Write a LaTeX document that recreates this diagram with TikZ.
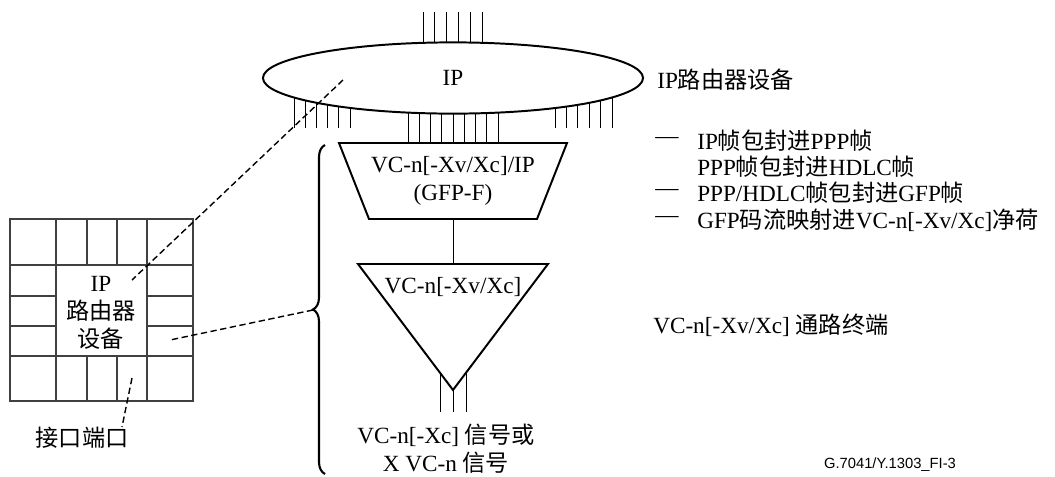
\documentclass[tikz,border=0pt]{standalone}
\usepackage{fontspec}
\setmainfont{Liberation Serif}
\newfontfamily\zhfont{Noto Sans CJK SC}
\newfontfamily\tagfont{Liberation Sans}
\usetikzlibrary{shapes.geometric, decorations.pathreplacing}
\newcommand{\zh}[1]{{\zhfont #1}}

\begin{document}
\begin{tikzpicture}[
  x=0.025cm, y=-0.025cm,
  font=\fontsize{16.5}{19.8}\selectfont,
  box/.style={draw, line width=1.4pt, line join=miter, fill=white},
  wire/.style={line width=0.7pt},
  cell/.style={line width=0.8pt, draw=black!75},
  link/.style={line width=1pt, dash pattern=on 4.5pt off 2.5pt},
  note/.style={anchor=west, inner sep=0pt},
  lbl/.style={inner sep=0pt, align=center}
]
\useasboundingbox (0,0) rectangle (1055,476);

% ports of the IP router
\foreach \i in {0,...,5} \draw[wire] (423+11.8*\i,12) -- (423+11.8*\i,78);
\foreach \i in {0,...,5} \draw[wire] (294+11.2*\i,78) -- (294+11.2*\i,128);
\foreach \i in {0,...,8} \draw[wire] (408+11.25*\i,78) -- (408+11.25*\i,143);
\foreach \i in {0,...,5} \draw[wire] (555+11.4*\i,78) -- (555+11.4*\i,128);

\node[ellipse, box, minimum width=9.5cm, minimum height=1.78cm,
      inner sep=0pt] (ip) at (453,78) {IP};
\node[note] (ipname) at (657,80) {IP\zh{路由器设备}};

% GFP-F adaptation
\draw[box] (339,143) -- (567,143) -- (537,219) -- (369,219) -- cycle;
\node[lbl] (gfp) at (453,181) {VC-n[-Xv/Xc]/IP\\(GFP-F)};
\coordinate (gfpB) at (453,219);
\coordinate (vcnT) at (453,264);
\draw[wire] (gfpB) -- (vcnT);

% VC-n trail termination
\foreach \x in {440,453,466} \draw[wire] (\x,365) -- (\x,412);
\draw[box] (358,264) -- (548,264) -- (453,390) -- cycle;
\node[lbl] (vcn) at (453,287) {VC-n[-Xv/Xc]};
\node[lbl] (sig) at (446,449)
  {VC-n[-Xc] \zh{信号或}\\X VC-n \zh{信号}};

\draw[line width=1.5pt, decorate,
      decoration={brace, amplitude=0.3cm, aspect=0.5}]
  (325,474) -- (325,145);
\coordinate (tip) at (313,310);

% router card
\draw[cell] (10,219) rectangle (193,401);
\draw[cell] (10,265) -- (193,265) (10,356) -- (193,356);
\draw[cell] (56,219) -- (56,401) (147,219) -- (147,401);
\draw[cell] (87,219) -- (87,265) (117,219) -- (117,265)
            (87,356) -- (87,401) (117,356) -- (117,401);
\draw[cell] (10,296) -- (56,296) (10,326) -- (56,326)
            (147,296) -- (193,296) (147,326) -- (193,326);
\node[lbl] (router) at (101,313) {IP\\\zh{路由器}\\\zh{设备}};
\node[lbl] (port) at (82,438) {\zh{接口端口}};

\coordinate (ipIn) at (343,80);
\coordinate (routerIn) at (132,280);
\coordinate (sideIn) at (170,340);
\coordinate (portIn) at (132,378);
\coordinate (portEnd) at (122,427);
\draw[link] (ipIn) -- (routerIn);
\draw[link] (tip) -- (sideIn);
\draw[link] (portIn) -- (portEnd);

% process notes
\node[note] (d1) at (655,141) {—};
\node[note] (d3) at (655,193) {—};
\node[note] (d4) at (655,220) {—};
\node[note] (s1) at (697,141) {IP\zh{帧包封进}PPP\zh{帧}};
\node[note] (s2) at (697,167) {PPP\zh{帧包封进}HDLC\zh{帧}};
\node[note] (s3) at (697,193) {PPP/HDLC\zh{帧包封进}GFP\zh{帧}};
\node[note] (s4) at (697,220) {GFP\zh{码流映射进}VC-n[-Xv/Xc]\zh{净荷}};
\node[note] (trail) at (653,325) {VC-n[-Xv/Xc] \zh{通路终端}};

\node[lbl, font=\tagfont\fontsize{10.5}{12}\selectfont] (tag)
  at (890,465) {G.7041/Y.1303\_FI-3};
\end{tikzpicture}
\end{document}
